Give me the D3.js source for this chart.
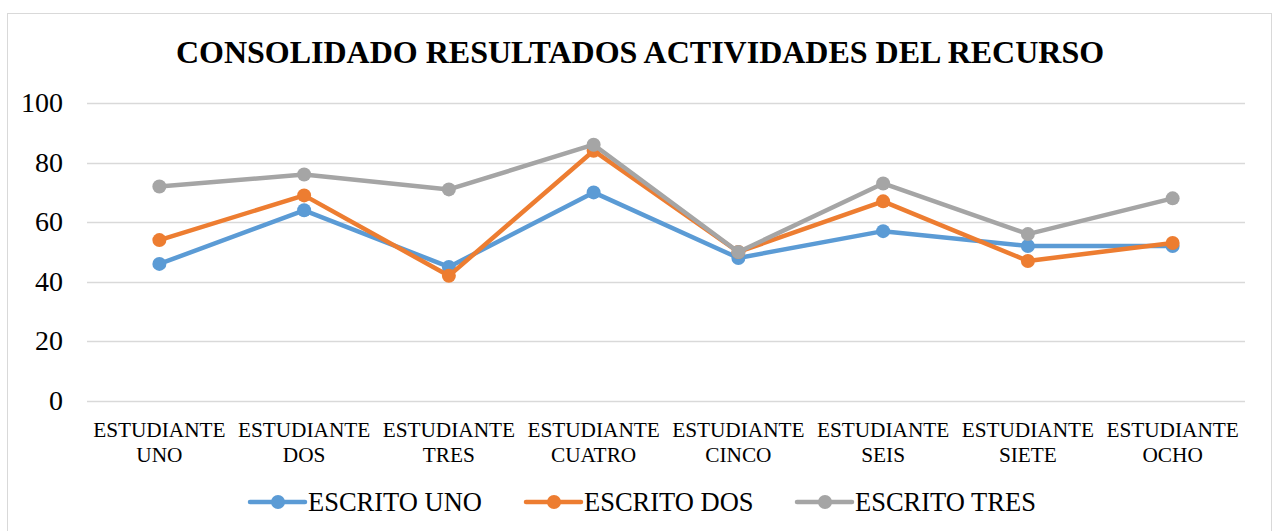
<!DOCTYPE html>
<meta charset="utf-8">
<head>
    <title>Consolidado resultados</title>
    <script src="https://d3js.org/d3.v7.min.js"></script>
</head>
<style type="text/css">
body{
    margin: 0;
    background: #FFFFFF;
}
svg text{
    font-family: "Liberation Serif", "Times New Roman", serif;
    fill: #000;
}
</style>
<body>
    <svg id="chart" width="1275" height="531"></svg>

    <script type="text/javascript">
        var categories = ["ESTUDIANTE UNO", "ESTUDIANTE DOS", "ESTUDIANTE TRES", "ESTUDIANTE CUATRO",
                          "ESTUDIANTE CINCO", "ESTUDIANTE SEIS", "ESTUDIANTE SIETE", "ESTUDIANTE OCHO"];
        var seriesNames = ["ESCRITO UNO", "ESCRITO DOS", "ESCRITO TRES"];
        var escritoUno = [46, 64, 45, 70, 48, 57, 52, 52];
        var escritoDos = [54, 69, 42, 84, 50, 67, 47, 53];
        var escritoTres = [72, 76, 71, 86, 50, 73, 56, 68];
        var colors = ["#5B9BD5", "#ED7D31", "#A5A5A5"];
        var yTicks = [0, 20, 40, 60, 80, 100];

        var series = [escritoUno, escritoDos, escritoTres];

        var svg = d3.select("#chart");

        // outer frame
        svg.append("rect")
            .attr("x", 7.5).attr("y", 13.5)
            .attr("width", 1264).attr("height", 530)
            .attr("fill", "none")
            .attr("stroke", "#d9d9d9")
            .attr("stroke-width", 1);

        svg.append("text")
            .attr("x", 640).attr("y", 63)
            .attr("text-anchor", "middle")
            .style("font-size", "32px")
            .style("font-weight", "bold")
            .text("CONSOLIDADO RESULTADOS ACTIVIDADES DEL RECURSO");

        var x = d3.scaleBand().domain(categories).range([87, 1245]);
        var y = d3.scaleLinear().domain([0, 100]).range([401, 103]);

        // gridlines
        svg.append("g").selectAll("line")
            .data(yTicks)
            .enter().append("line")
            .attr("x1", 87).attr("x2", 1245)
            .attr("y1", function(d){ return Math.round(y(d)) + 0.5; })
            .attr("y2", function(d){ return Math.round(y(d)) + 0.5; })
            .attr("stroke", "#d9d9d9")
            .attr("stroke-width", 1.5);

        // y labels
        svg.append("g").selectAll("text")
            .data(yTicks)
            .enter().append("text")
            .attr("x", 63)
            .attr("y", function(d){ return y(d) + 9; })
            .attr("text-anchor", "end")
            .style("font-size", "28px")
            .text(function(d){ return d; });

        // x labels (two lines)
        var xl = svg.append("g").selectAll("text")
            .data(categories)
            .enter().append("text")
            .attr("text-anchor", "middle")
            .style("font-size", "21.3px");
        xl.each(function(d){
            var parts = d.split(" ");
            var t = d3.select(this);
            var cx = x(d) + x.bandwidth() / 2;
            t.append("tspan").attr("x", cx).attr("y", 437).text(parts[0]);
            t.append("tspan").attr("x", cx).attr("y", 462).text(parts[1]);
        });

        var line = d3.line()
            .x(function(d, i){ return x(categories[i]) + x.bandwidth() / 2; })
            .y(function(d){ return y(d); });

        series.forEach(function(s, k){
            var g = svg.append("g");
            g.append("path")
                .datum(s)
                .attr("d", line)
                .attr("fill", "none")
                .attr("stroke", colors[k])
                .attr("stroke-width", 4.5)
                .attr("stroke-linejoin", "round");
            g.selectAll("circle")
                .data(s)
                .enter().append("circle")
                .attr("cx", function(d, i){ return x(categories[i]) + x.bandwidth() / 2; })
                .attr("cy", function(d){ return y(d); })
                .attr("r", 7)
                .attr("fill", colors[k]);
        });

        // legend
        var legendX = [250, 526, 797];
        seriesNames.forEach(function(name, k){
            var lg = svg.append("g").attr("transform", "translate(" + legendX[k] + ",502)");
            lg.append("line")
                .attr("x1", 0).attr("x2", 55)
                .attr("y1", 0).attr("y2", 0)
                .attr("stroke", colors[k])
                .attr("stroke-width", 4.5)
                .attr("stroke-linecap", "round");
            lg.append("circle")
                .attr("cx", 28).attr("cy", 0).attr("r", 7)
                .attr("fill", colors[k]);
            lg.append("text")
                .attr("x", 58).attr("y", 9)
                .style("font-size", "26.5px")
                .text(name);
        });
    </script>
</body>
